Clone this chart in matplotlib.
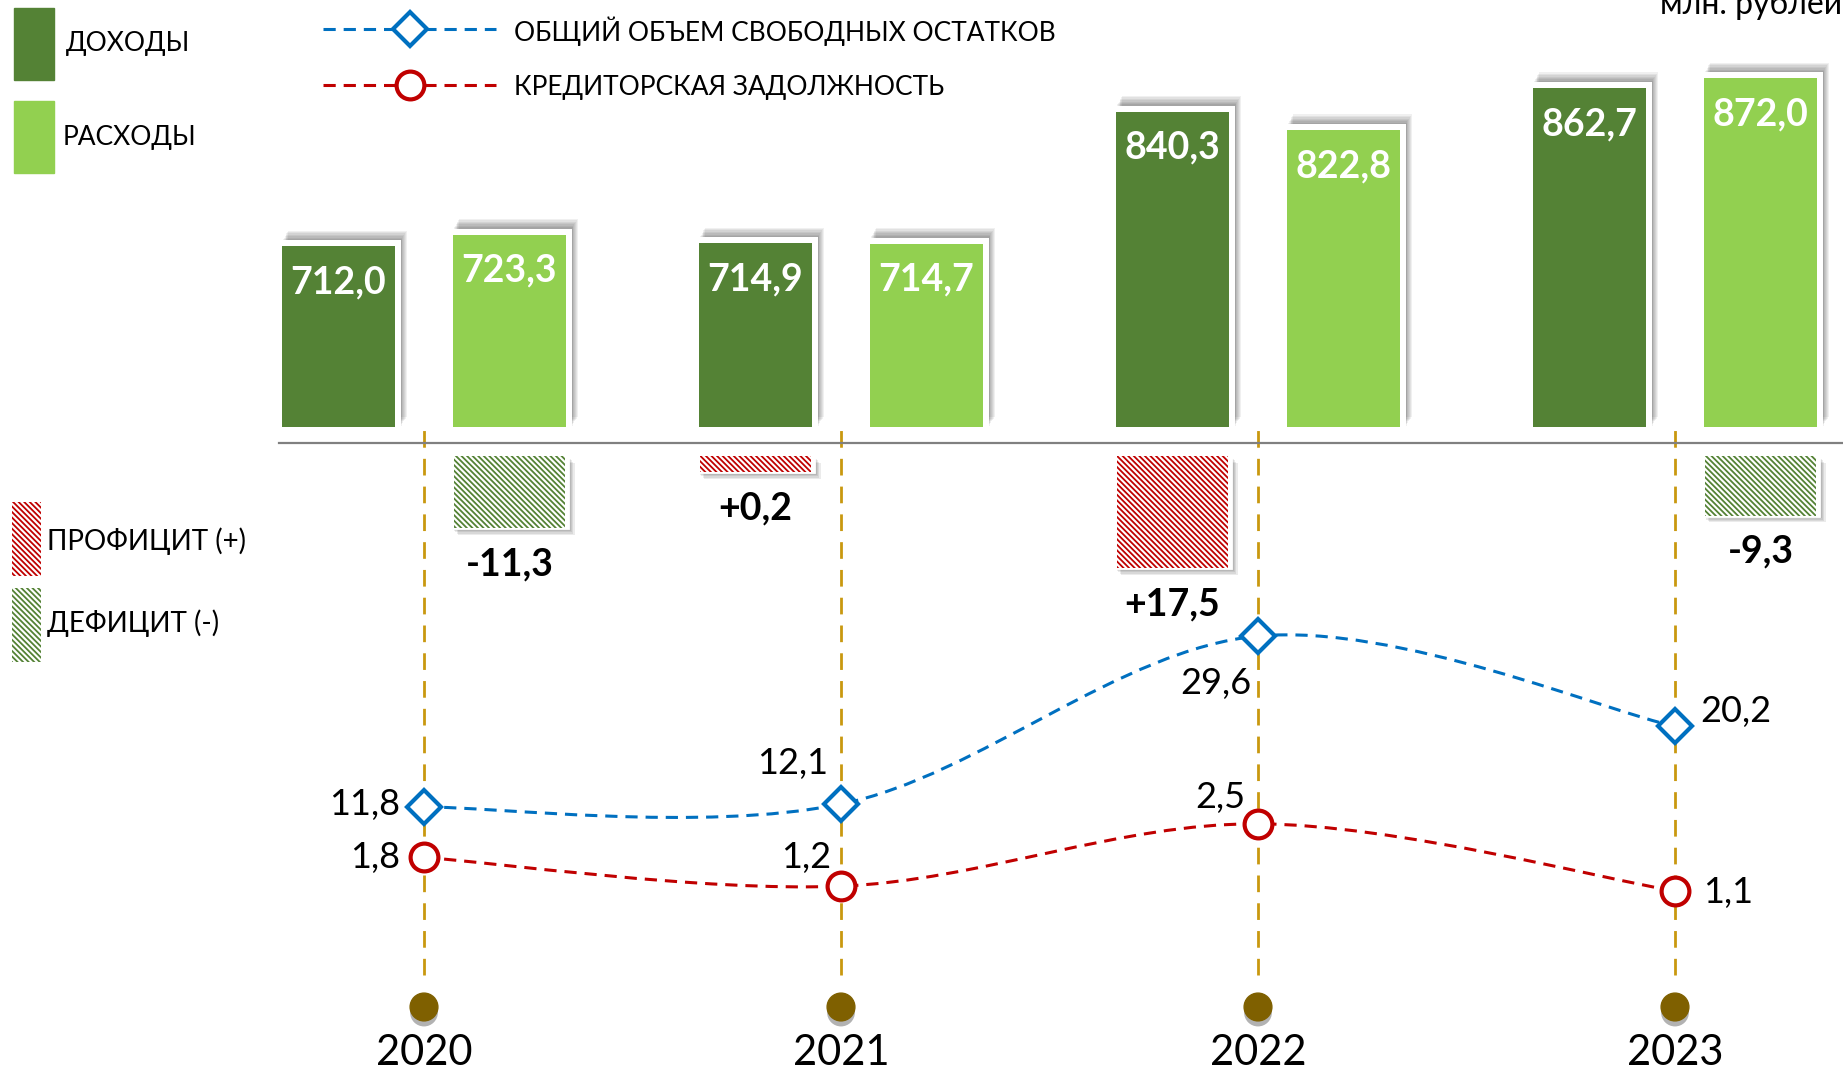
import numpy as np
import matplotlib.pyplot as plt
import matplotlib.patheffects as pe
from matplotlib.path import Path
from matplotlib.patches import PathPatch, Rectangle
from matplotlib.lines import Line2D

plt.rcParams['font.family'] = ['Lato', 'Open Sans', 'DejaVu Sans']
plt.rcParams['hatch.linewidth'] = 1.3

# data
years = ['2020', '2021', '2022', '2023']
income = [712.0, 714.9, 840.3, 862.7]       # доходы
expense = [723.3, 714.7, 822.8, 872.0]      # расходы
balance = [-11.3, 0.2, 17.5, -9.3]          # профицит / дефицит
free_balance = [11.8, 12.1, 29.6, 20.2]     # общий объем свободных остатков
payables = [1.8, 1.2, 2.5, 1.1]             # кредиторская задолженность

W, H = 1843, 1072
dark_green = '#548235'
light_green = '#92D050'
red = '#C00000'
blue = '#0070C0'
gold = '#C9980F'
brown = '#7F6000'
HATCH = '\\' * 6

x = np.arange(len(years))
off, bw = 0.205, 0.27
x0_px, step_px = 424, 417
xlim = (-x0_px / step_px, (W - x0_px) / step_px)


def ylim_for(px, val, k):
    # value `val` sits at pixel row `px` (from top), k pixels per unit
    return val - (H - px) / k, val + px / k


def full_axes():
    ax = fig.add_axes([0, 0, 1, 1])
    ax.set_axis_off()
    ax.set_xlim(xlim)
    ax.patch.set_alpha(0)
    return ax


def smooth_path(xs, ys):
    pts = np.column_stack([xs, ys]).astype(float)
    ext = np.vstack([pts[0], pts, pts[-1]])
    verts, codes = [pts[0]], [Path.MOVETO]
    for i in range(len(pts) - 1):
        p0, p1, p2, p3 = ext[i], ext[i + 1], ext[i + 2], ext[i + 3]
        verts += [p1 + (p2 - p0) / 6, p2 - (p3 - p1) / 6, p2]
        codes += [Path.CURVE4] * 3
    return Path(verts, codes)


def fmt(v, sign=False):
    s = f'{v:+.1f}' if sign else f'{v:.1f}'
    return s.replace('.', ',')


fig = plt.figure(figsize=(W / 100, H / 100), dpi=100)

# ---- balance boxes, gold guides, year markers
ax_bal = full_axes()
ax_bal.set_ylim(96.25, -71.25)
ax_bal.axhline(-2, xmin=279 / W, xmax=1, color='#808080', lw=1.6, zorder=1)
for xi in x:
    ax_bal.axvline(xi, ymin=1 - 975 / H, ymax=1 - 430 / H, color=gold, lw=2,
                   linestyle=(0, (6, 4)), zorder=0.5)

bal_x = [xi - off if v > 0 else xi + off for xi, v in zip(x, balance)]
bal_h = [max(abs(v), 2.5) for v in balance]   # tiny values still get a visible box
bal_c = [red if v > 0 else dark_green for v in balance]
sh = [pe.SimplePatchShadow(offset=(o, -o), shadow_rgbFace='k', alpha=0.08)
      for o in (1, 2, 3, 4, 5)] + [pe.Normal()]
ax_bal.bar(bal_x, bal_h, width=bw + 0.01, color='white', edgecolor='white',
           lw=2, path_effects=sh, zorder=2)
ax_bal.bar(bal_x, bal_h, width=bw - 0.005, color='white', edgecolor=bal_c,
           lw=0, hatch=HATCH, zorder=3)
for bx, h, v in zip(bal_x, bal_h, balance):
    ax_bal.annotate(fmt(v, sign=v > 0), (bx, h), xytext=(0, -26),
                    textcoords='offset points', ha='center', va='center',
                    fontsize=27, fontweight='bold')

dot_y = 1 - 1007 / H
ax_bal.plot(x, [dot_y] * len(x), 'o', color=brown, ms=20,
            transform=ax_bal.get_xaxis_transform(), zorder=3,
            path_effects=[pe.SimplePatchShadow(offset=(0, -4), shadow_rgbFace='k', alpha=0.3),
                          pe.Normal()])
for xi, yr in zip(x, years):
    ax_bal.text(xi, 1 - 1053 / H, yr, transform=ax_bal.get_xaxis_transform(),
                ha='center', va='center', fontsize=30)

# ---- income / expense bars (white frame on top/right + soft shadow)
base = 540
kb = 1.05
ax_bar = full_axes()
ax_bar.set_ylim(*ylim_for(427, base, kb))
frame_x, frame_y = 6 / step_px, 6 / kb
bsh = [pe.SimplePatchShadow(offset=(o * 0.6, o), shadow_rgbFace='k', alpha=0.06)
       for o in (1, 2, 3, 4, 5, 6, 7)] + [pe.Normal()]
for vals, dx, col in [(income, -off, dark_green), (expense, off, light_green)]:
    vals = np.array(vals)
    ax_bar.bar(x + dx - bw / 2, vals - base + frame_y, bottom=base, width=bw + frame_x,
               align='edge', color='white', lw=0, path_effects=bsh, zorder=2)
    ax_bar.bar(x + dx, vals - base, bottom=base, width=bw, color=col, lw=0, zorder=3)
    for xi, v in zip(x + dx, vals):
        ax_bar.annotate(fmt(v), (xi, v), xytext=(0, -26), textcoords='offset points',
                        ha='center', va='center', color='white', fontsize=27,
                        fontweight='bold', zorder=4)

# ---- lines
ax_blue = full_axes()
ax_blue.set_ylim(*ylim_for(807, 11.8, 9.6))
ax_red = full_axes()
ax_red.set_ylim(*ylim_for(891, 1.1, 48))

blue_offsets = [(-17, 2, 'right'), (-9, 29, 'right'), (-5, -34, 'right'), (18, 11, 'left')]
red_offsets = [(-17, 0, 'right'), (-7, 21, 'right'), (-9, 19, 'right'), (20, -1, 'left')]

for ax, vals, col, mk, ms, offs in [(ax_blue, free_balance, blue, 'D', 17, blue_offsets),
                                    (ax_red, payables, red, 'o', 20, red_offsets)]:
    ax.add_patch(PathPatch(smooth_path(x, vals), fill=False, edgecolor=col, lw=2.2,
                           linestyle=(0, (4, 2.6)), zorder=3))
    ax.plot(x, vals, linestyle='none', marker=mk, ms=ms, mfc='white', mec=col,
            mew=3, zorder=4)
    for xi, v, (dx, dy, ha) in zip(x, vals, offs):
        ax.annotate(fmt(v), (xi, v), xytext=(dx, dy), textcoords='offset points',
                    ha=ha, va='center', fontsize=26)

# ---- legends (pixel overlay)
ov = fig.add_axes([0, 0, 1, 1])
ov.set_axis_off()
ov.set_xlim(0, W)
ov.set_ylim(H, 0)
ov.patch.set_alpha(0)
ov.add_patch(Rectangle((14, 8), 40, 72, color=dark_green))
ov.add_patch(Rectangle((14, 101), 40, 72, color=light_green))
ov.text(66, 44, 'ДОХОДЫ', va='center', fontsize=19)
ov.text(63, 137, 'РАСХОДЫ', va='center', fontsize=19)
ov.add_patch(Rectangle((12, 502), 29, 74, facecolor='white', edgecolor=red, lw=0,
                       hatch=HATCH))
ov.add_patch(Rectangle((12, 588), 29, 74, facecolor='white', edgecolor=dark_green, lw=0,
                       hatch=HATCH))
ov.text(47, 541, 'ПРОФИЦИТ (+)', va='center', fontsize=20)
ov.text(47, 623, 'ДЕФИЦИТ (-)', va='center', fontsize=20)
for yy, col, mk, ms, lab in [(29, blue, 'D', 17, 'ОБЩИЙ ОБЪЕМ СВОБОДНЫХ ОСТАТКОВ'),
                             (85, red, 'o', 20, 'КРЕДИТОРСКАЯ ЗАДОЛЖНОСТЬ')]:
    ov.add_line(Line2D([323, 496], [yy, yy], color=col, lw=2.2, linestyle=(0, (4, 2.6))))
    ov.plot([410], [yy], marker=mk, ms=ms, mfc='white', mec=col, mew=3)
    ov.text(514, yy + 2, lab, va='center', fontsize=19)
ov.text(1660, 14, 'млн. рублей', va='baseline', fontsize=23)

fig.savefig('out.png', dpi=100)
